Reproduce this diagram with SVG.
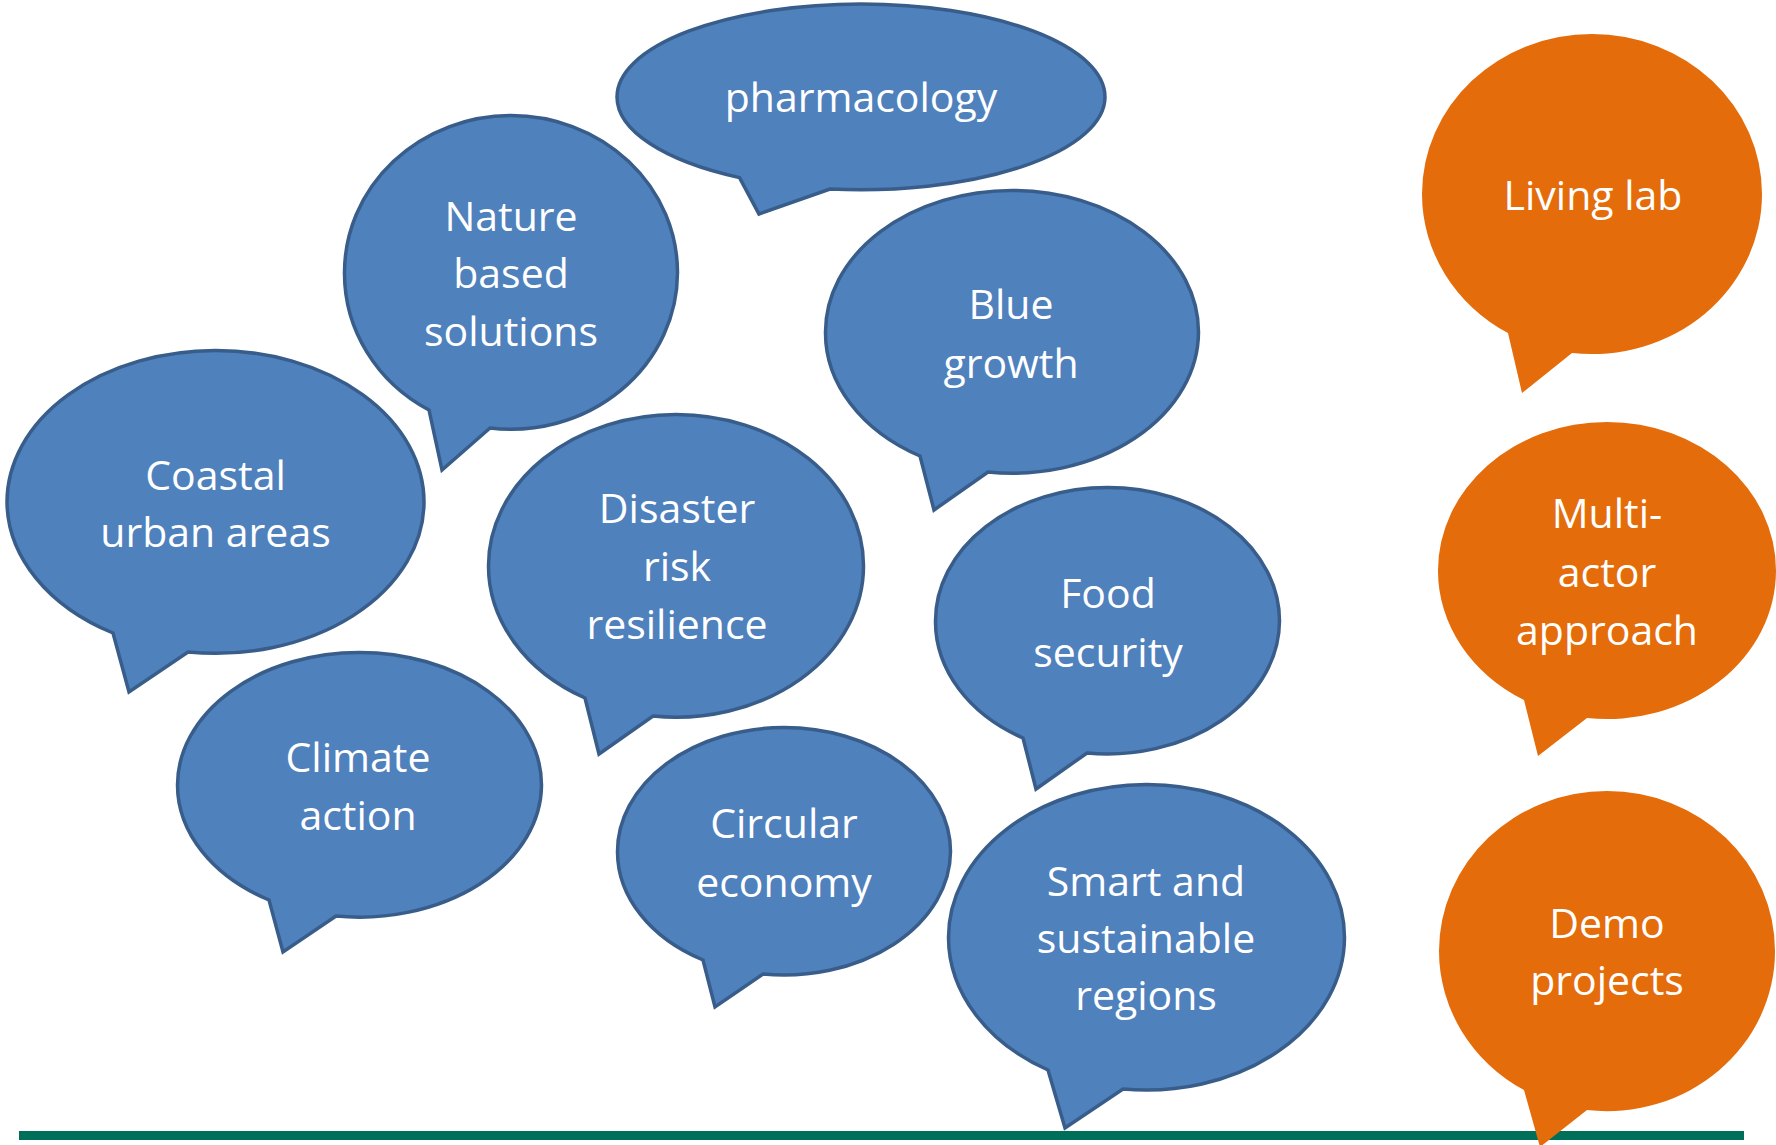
<svg xmlns="http://www.w3.org/2000/svg" width="1776" height="1145" viewBox="0 0 1776 1145">
<style>
.blue{fill:#4f81bd;stroke:#385d8a;stroke-width:3.5;stroke-linejoin:miter}
.orange{fill:#e46c0a;stroke:none}
.lbl{font-family:"Open Sans","Noto Sans","Liberation Sans",sans-serif;font-size:41px;fill:#ffffff;text-anchor:middle}
</style>
<rect width="1776" height="1145" fill="#ffffff"/>
<g id="pharmacology">
<path class="blue" d="M830,189 A244,93 0 0 0 1105,97 A244,93 0 0 0 617,97 A244,93 0 0 0 739.5,177.6 L759,214 Z"/>
<text class="lbl" x="861" y="112">pharmacology</text>
</g>
<g id="nature-based-solutions">
<path class="blue" d="M490,428 A166.5,157 0 0 0 677.5,272.5 A166.5,157 0 0 0 344.5,272.5 A166.5,157 0 0 0 429,410 L442,470 Z"/>
<text class="lbl" x="511" y="231">Nature</text>
<text class="lbl" x="511" y="288">based</text>
<text class="lbl" x="511" y="346">solutions</text>
</g>
<g id="blue-growth">
<path class="blue" d="M988,472 A186.5,141.5 0 0 0 1198.5,332 A186.5,141.5 0 0 0 825.5,332 A186.5,141.5 0 0 0 920,456 L934,510 Z"/>
<text class="lbl" x="1011" y="319">Blue</text>
<text class="lbl" x="1011" y="378">growth</text>
</g>
<g id="coastal-urban-areas">
<path class="blue" d="M188,652 A208.5,151.5 0 0 0 424,502 A208.5,151.5 0 0 0 7,502 A208.5,151.5 0 0 0 113,633 L129,692 Z"/>
<text class="lbl" x="215.5" y="490">Coastal</text>
<text class="lbl" x="215.5" y="547">urban areas</text>
</g>
<g id="disaster-risk-resilience">
<path class="blue" d="M653,716 A187.5,151 0 0 0 863.5,565.5 A187.5,151 0 0 0 488.5,565.5 A187.5,151 0 0 0 585,698 L599,754 Z"/>
<text class="lbl" x="677" y="523">Disaster</text>
<text class="lbl" x="677" y="581">risk</text>
<text class="lbl" x="677" y="639">resilience</text>
</g>
<g id="food-security">
<path class="blue" d="M1087,753 A172,133.5 0 0 0 1279.5,621 A172,133.5 0 0 0 935.5,621 A172,133.5 0 0 0 1023,738 L1036,789 Z"/>
<text class="lbl" x="1108" y="608">Food</text>
<text class="lbl" x="1108" y="667">security</text>
</g>
<g id="climate-action">
<path class="blue" d="M336,916 A182,132.5 0 0 0 541.5,785 A182,132.5 0 0 0 177.5,785 A182,132.5 0 0 0 269,900 L283,952 Z"/>
<text class="lbl" x="358" y="772">Climate</text>
<text class="lbl" x="358" y="830">action</text>
</g>
<g id="circular-economy">
<path class="blue" d="M763,974 A166.5,124 0 0 0 950.5,851.5 A166.5,124 0 0 0 617.5,851.5 A166.5,124 0 0 0 703,960 L715,1007 Z"/>
<text class="lbl" x="784" y="838">Circular</text>
<text class="lbl" x="784" y="897">economy</text>
</g>
<g id="smart-sustainable-regions">
<path class="blue" d="M1123,1089 A198,153 0 0 0 1344.5,937.5 A198,153 0 0 0 948.5,937.5 A198,153 0 0 0 1048,1070 L1065,1128 Z"/>
<text class="lbl" x="1146" y="896">Smart and</text>
<text class="lbl" x="1146" y="953">sustainable</text>
<text class="lbl" x="1146" y="1010">regions</text>
</g>
<g id="connectors">
<rect x="19" y="1131" width="1725" height="9" fill="#006f59"/>
</g>
<g id="living-lab">
<path class="orange" d="M1572,353 A170,160 0 0 0 1762,194 A170,160 0 0 0 1422,194 A170,160 0 0 0 1508,333 L1522,393 Z"/>
<text class="lbl" x="1593" y="210">Living lab</text>
</g>
<g id="multi-actor-approach">
<path class="orange" d="M1587,718 A169,148.5 0 0 0 1776,570.5 A169,148.5 0 0 0 1438,570.5 A169,148.5 0 0 0 1524,700 L1538,756 Z"/>
<text class="lbl" x="1607" y="528">Multi-</text>
<text class="lbl" x="1607" y="587">actor</text>
<text class="lbl" x="1607" y="645">approach</text>
</g>
<g id="demo-projects">
<path class="orange" d="M1587,1110 A168,160 0 0 0 1775,951 A168,160 0 0 0 1439,951 A168,160 0 0 0 1524,1090 L1540,1147 Z"/>
<text class="lbl" x="1607" y="938">Demo</text>
<text class="lbl" x="1607" y="995">projects</text>
</g>
</svg>
